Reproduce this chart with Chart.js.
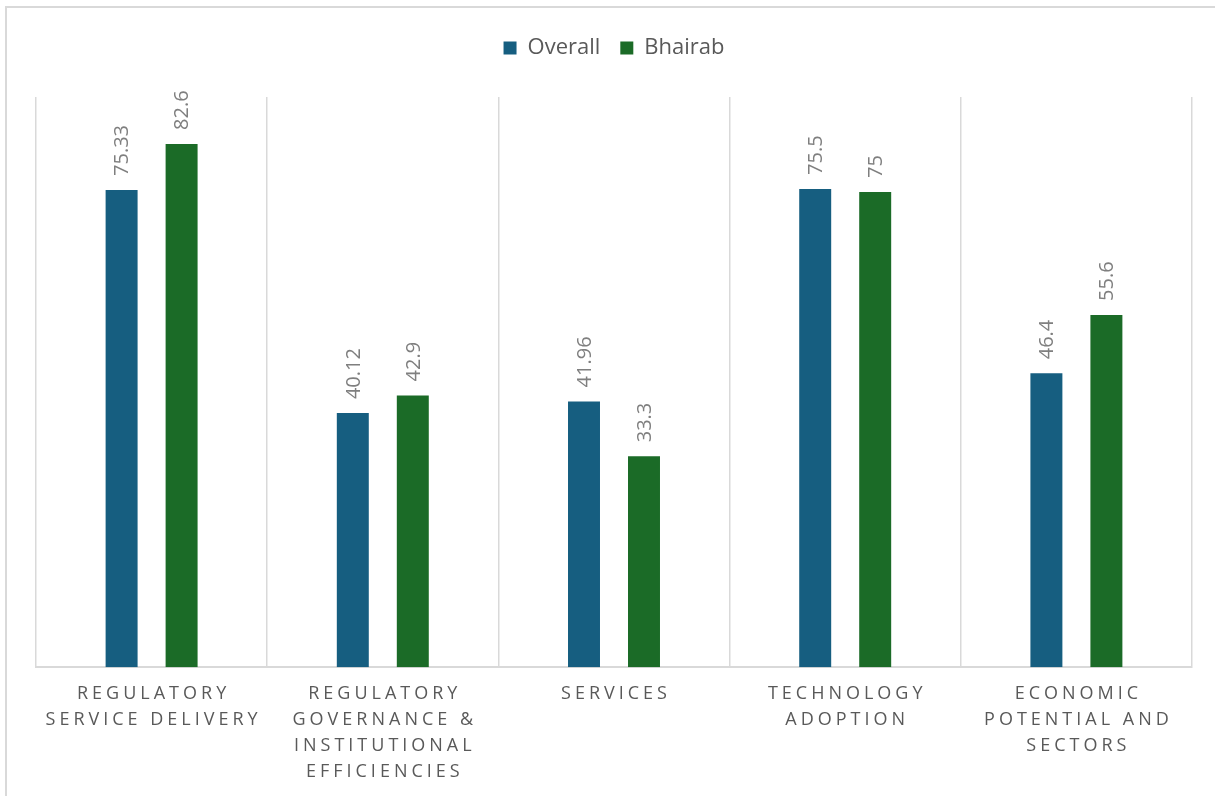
<!DOCTYPE html>
<html>
<head>
    <script src="https://cdn.jsdelivr.net/npm/chart.js"></script>
    <style>
        html, body {
            margin: 0;
            padding: 0;
            overflow: hidden;
            background: #ffffff;
            font-family: "Open Sans";
        }
        .frame {
            position: absolute;
            left: 5px;
            top: 6px;
            width: 1230px;
            height: 820px;
            border: 2px solid #d9d9d9;
        }
        .chart-container {
            position: absolute;
            left: 0;
            top: 0;
            width: 1215px;
            height: 807px;
        }
    </style>
</head>
<body>
    <div class="frame"></div>
    <div class="chart-container">
        <canvas id="scoreChart"></canvas>
    </div>

    <script>
        const categories = [
            ['REGULATORY', 'SERVICE DELIVERY'],
            ['REGULATORY', 'GOVERNANCE &', 'INSTITUTIONAL', 'EFFICIENCIES'],
            ['SERVICES'],
            ['TECHNOLOGY', 'ADOPTION'],
            ['ECONOMIC', 'POTENTIAL AND', 'SECTORS']
        ];
        const overallScores = [75.33, 40.12, 41.96, 75.5, 46.4];
        const bhairabScores = [82.6, 42.9, 33.3, 75, 55.6];

        // value labels written upright along each bar top
        const valueLabels = {
            id: 'valueLabels',
            afterDatasetsDraw(chart) {
                const ctx = chart.ctx;
                ctx.save();
                ctx.font = '20px "Open Sans"';
                ctx.fillStyle = '#7f7f7f';
                ctx.textAlign = 'left';
                ctx.textBaseline = 'middle';
                chart.data.datasets.forEach((ds, i) => {
                    chart.getDatasetMeta(i).data.forEach((bar, j) => {
                        ctx.save();
                        ctx.translate(bar.x + 1, bar.y - 14);
                        ctx.rotate(-Math.PI / 2);
                        ctx.fillText(String(ds.data[j]), 0, 0);
                        ctx.restore();
                    });
                });
                ctx.restore();
            }
        };

        // wide letter spacing on the category labels, extra room under the legend
        const layoutTweaks = {
            id: 'layoutTweaks',
            afterInit(chart) {
                const legend = chart.legend;
                if (legend && !legend._padded) {
                    const fit = legend.fit;
                    legend.fit = function () {
                        fit.call(this);
                        this.height += 28;
                    };
                    legend._padded = true;
                }
            },
            afterUpdate(chart) {
                const sc = chart.scales.x;
                if (sc && !sc._spaced) {
                    const drawLabels = sc.drawLabels;
                    sc.drawLabels = function (area) {
                        const ctx = this.ctx;
                        ctx.save();
                        ctx.letterSpacing = '4px';
                        ctx.translate(2, 0);
                        drawLabels.call(this, area);
                        ctx.restore();
                    };
                    sc._spaced = true;
                }
            }
        };

        const ctx = document.getElementById('scoreChart').getContext('2d');
        new Chart(ctx, {
            type: 'bar',
            data: {
                labels: categories,
                datasets: [
                    {
                        label: 'Overall',
                        data: overallScores,
                        backgroundColor: '#165e80',
                        borderWidth: 0,
                        barPercentage: 0.533,
                        categoryPercentage: 0.519
                    },
                    {
                        label: 'Bhairab',
                        data: bhairabScores,
                        backgroundColor: '#1b6b27',
                        borderWidth: 0,
                        barPercentage: 0.533,
                        categoryPercentage: 0.519
                    }
                ]
            },
            options: {
                responsive: true,
                maintainAspectRatio: false,
                animation: false,
                layout: {
                    padding: { top: 17, left: 36, right: 23, bottom: 8 }
                },
                plugins: {
                    tooltip: { enabled: false },
                    legend: {
                        position: 'top',
                        labels: {
                            font: { family: 'Open Sans', size: 22 },
                            color: '#595959',
                            boxWidth: 13,
                            boxHeight: 13,
                            padding: 20
                        }
                    }
                },
                scales: {
                    x: {
                        grid: {
                            display: true,
                            color: '#d9d9d9',
                            lineWidth: 1.5,
                            drawTicks: false,
                            offset: true
                        },
                        border: {
                            display: true,
                            color: '#d9d9d9',
                            width: 2
                        },
                        ticks: {
                            font: { family: 'Open Sans', size: 18, lineHeight: 1.44 },
                            color: '#595959',
                            padding: 14,
                            maxRotation: 0,
                            minRotation: 0,
                            autoSkip: false
                        }
                    },
                    y: {
                        display: false,
                        min: 0,
                        max: 90
                    }
                }
            },
            plugins: [valueLabels, layoutTweaks]
        });
    </script>
</body>
</html>
